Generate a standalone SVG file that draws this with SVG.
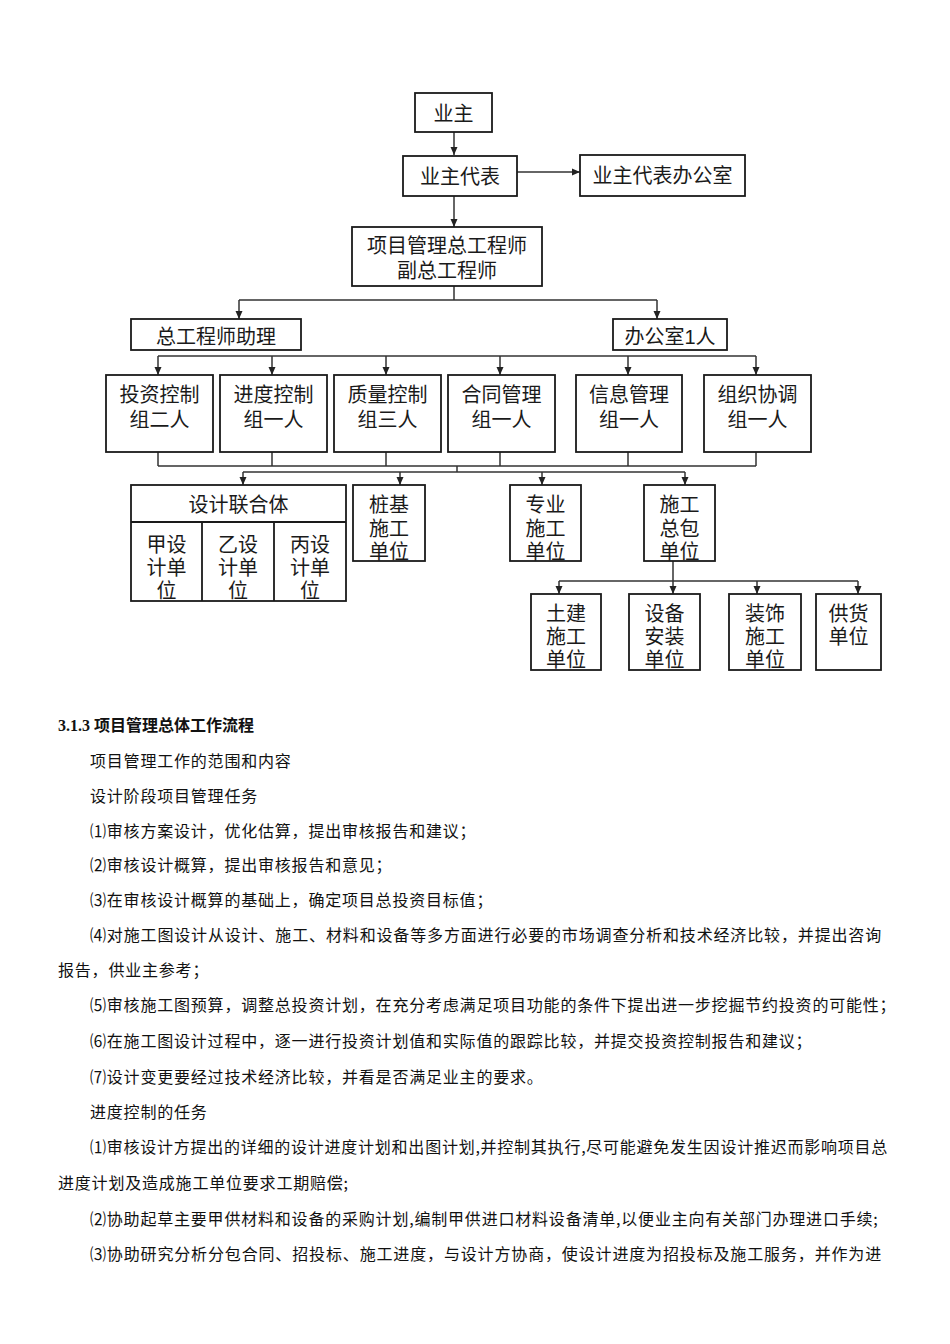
<svg xmlns="http://www.w3.org/2000/svg" width="950" height="1344" viewBox="0 0 950 1344">
<style>
.bx{fill:#fff;stroke:#1a1a1a;stroke-width:1.8}
.t{font-family:"Liberation Sans","Noto Sans CJK SC",sans-serif;font-size:20px;fill:#1a1a1a;text-anchor:middle;dominant-baseline:central;transform:translateY(2px)}
.c{fill:none;stroke:#333;stroke-width:1.5}
.a{marker-end:url(#ah)}
.b{font-family:"Noto Sans CJK SC","Noto Sans",sans-serif;font-size:16px;letter-spacing:0.8px;fill:#111;dominant-baseline:central}
.h{font-family:"Liberation Serif","Noto Sans CJK SC",serif;font-size:16px;font-weight:bold;fill:#111;dominant-baseline:central}
</style>
<defs>
<marker id="ah" markerUnits="userSpaceOnUse" markerWidth="8" markerHeight="8" refX="8" refY="4" orient="auto">
<path d="M0,0.5 L8,4 L0,7.5 z" fill="#222"/>
</marker>
</defs>
<rect width="950" height="1344" fill="#fff"/>

<g id="connectors">
<path class="c a" d="M454,132 V155"/>
<path class="c a" d="M517,172 H580"/>
<path class="c a" d="M454,196 V227"/>
<path class="c" d="M454,286 V300 M239,300 H657"/>
<path class="c a" d="M239,300 V319"/>
<path class="c a" d="M657,300 V319"/>
<path class="c" d="M158,356 H756"/>
<path class="c a" d="M158,356 V375"/>
<path class="c a" d="M272,356 V375"/>
<path class="c a" d="M386,356 V375"/>
<path class="c a" d="M500,356 V375"/>
<path class="c a" d="M628,356 V375"/>
<path class="c a" d="M756,356 V375"/>
<path class="c" d="M158,452 V466 M272,452 V466 M386,452 V466 M500,452 V466 M628,452 V466 M756,452 V466 M158,466 H756 M457,466 V472 M243,472 H685"/>
<path class="c a" d="M243,472 V485"/>
<path class="c a" d="M400,472 V485"/>
<path class="c a" d="M542,472 V485"/>
<path class="c a" d="M685,472 V485"/>
<path class="c a" d="M673,561 V594"/>
<path class="c" d="M559,581 H858"/>
<path class="c a" d="M559,581 V594"/>
<path class="c a" d="M757,581 V594"/>
<path class="c a" d="M858,581 V594"/>
</g>

<g id="yezhu"><rect class="bx" x="415" y="93" width="77" height="39"/><text class="t" x="453.5" y="112">业主</text></g>
<g id="yezhudaibiao"><rect class="bx" x="403" y="156" width="114" height="40"/><text class="t" x="460" y="175">业主代表</text></g>
<g id="bangongshi0"><rect class="bx" x="580" y="155" width="165" height="41"/><text class="t" x="662.5" y="174">业主代表办公室</text></g>
<g id="zonggong"><rect class="bx" x="352" y="227" width="190" height="59"/><text class="t"><tspan x="447" y="244">项目管理总工程师</tspan><tspan x="447" y="269">副总工程师</tspan></text></g>
<g id="zhuli"><rect class="bx" x="131" y="319" width="170" height="31"/><text class="t" x="216" y="335">总工程师助理</text></g>
<g id="bangongshi1"><rect class="bx" x="613" y="319" width="114" height="31"/><text class="t" x="670" y="335">办公室1人</text></g>

<g id="touzi"><rect class="bx" x="106" y="375" width="107" height="77"/><text class="t"><tspan x="159.5" y="393">投资控制</tspan><tspan x="159.5" y="418">组二人</tspan></text></g>
<g id="jindu"><rect class="bx" x="220" y="375" width="107" height="77"/><text class="t"><tspan x="273.5" y="393">进度控制</tspan><tspan x="273.5" y="418">组一人</tspan></text></g>
<g id="zhiliang"><rect class="bx" x="334" y="375" width="107" height="77"/><text class="t"><tspan x="387.5" y="393">质量控制</tspan><tspan x="387.5" y="418">组三人</tspan></text></g>
<g id="hetong"><rect class="bx" x="448" y="375" width="107" height="77"/><text class="t"><tspan x="501.5" y="393">合同管理</tspan><tspan x="501.5" y="418">组一人</tspan></text></g>
<g id="xinxi"><rect class="bx" x="576" y="375" width="106" height="77"/><text class="t"><tspan x="629" y="393">信息管理</tspan><tspan x="629" y="418">组一人</tspan></text></g>
<g id="zuzhi"><rect class="bx" x="704" y="375" width="107" height="77"/><text class="t"><tspan x="757.5" y="393">组织协调</tspan><tspan x="757.5" y="418">组一人</tspan></text></g>

<g id="sheji">
<rect class="bx" x="131" y="485" width="215" height="116"/>
<path class="c" style="stroke:#1a1a1a;stroke-width:1.8" d="M131,522 H346 M202,522 V601 M274,522 V601"/>
<text class="t" x="238.5" y="503">设计联合体</text>
<text class="t"><tspan x="166.5" y="543">甲设</tspan><tspan x="166.5" y="566">计单</tspan><tspan x="166.5" y="589">位</tspan></text>
<text class="t"><tspan x="238" y="543">乙设</tspan><tspan x="238" y="566">计单</tspan><tspan x="238" y="589">位</tspan></text>
<text class="t"><tspan x="310" y="543">丙设</tspan><tspan x="310" y="566">计单</tspan><tspan x="310" y="589">位</tspan></text>
</g>
<g id="zhuangji"><rect class="bx" x="353" y="485" width="72" height="76"/><text class="t"><tspan x="389" y="503">桩基</tspan><tspan x="389" y="527">施工</tspan><tspan x="389" y="550">单位</tspan></text></g>
<g id="zhuanye"><rect class="bx" x="510" y="485" width="71" height="76"/><text class="t"><tspan x="545.5" y="503">专业</tspan><tspan x="545.5" y="527">施工</tspan><tspan x="545.5" y="550">单位</tspan></text></g>
<g id="zongbao"><rect class="bx" x="644" y="485" width="71" height="76"/><text class="t"><tspan x="679.5" y="503">施工</tspan><tspan x="679.5" y="527">总包</tspan><tspan x="679.5" y="550">单位</tspan></text></g>

<g id="tujian"><rect class="bx" x="531" y="594" width="70" height="76"/><text class="t"><tspan x="566" y="612">土建</tspan><tspan x="566" y="635">施工</tspan><tspan x="566" y="658">单位</tspan></text></g>
<g id="shebei"><rect class="bx" x="629" y="594" width="71" height="76"/><text class="t"><tspan x="664.5" y="612">设备</tspan><tspan x="664.5" y="635">安装</tspan><tspan x="664.5" y="658">单位</tspan></text></g>
<g id="zhuangshi"><rect class="bx" x="729" y="594" width="72" height="76"/><text class="t"><tspan x="765" y="612">装饰</tspan><tspan x="765" y="635">施工</tspan><tspan x="765" y="658">单位</tspan></text></g>
<g id="gonghuo"><rect class="bx" x="816" y="594" width="65" height="76"/><text class="t"><tspan x="848.5" y="612">供货</tspan><tspan x="848.5" y="635">单位</tspan></text></g>

<g id="body">
<text class="h" x="58" y="725">3.1.3 项目管理总体工作流程</text>
<text class="b" x="90" y="760">项目管理工作的范围和内容</text>
<text class="b" x="90" y="795">设计阶段项目管理任务</text>
<text class="b" x="90" y="830">⑴审核方案设计，优化估算，提出审核报告和建议；</text>
<text class="b" x="90" y="864">⑵审核设计概算，提出审核报告和意见；</text>
<text class="b" x="90" y="899">⑶在审核设计概算的基础上，确定项目总投资目标值；</text>
<text class="b" x="90" y="934" textLength="792" lengthAdjust="spacing">⑷对施工图设计从设计、施工、材料和设备等多方面进行必要的市场调查分析和技术经济比较，并提出咨询</text>
<text class="b" x="58" y="969">报告，供业主参考；</text>
<text class="b" x="90" y="1004">⑸审核施工图预算，调整总投资计划，在充分考虑满足项目功能的条件下提出进一步挖掘节约投资的可能性；</text>
<text class="b" x="90" y="1040">⑹在施工图设计过程中，逐一进行投资计划值和实际值的跟踪比较，并提交投资控制报告和建议；</text>
<text class="b" x="90" y="1076">⑺设计变更要经过技术经济比较，并看是否满足业主的要求。</text>
<text class="b" x="90" y="1111">进度控制的任务</text>
<text class="b" x="90" y="1146" textLength="798" lengthAdjust="spacing">⑴审核设计方提出的详细的设计进度计划和出图计划,并控制其执行,尽可能避免发生因设计推迟而影响项目总</text>
<text class="b" x="58" y="1182">进度计划及造成施工单位要求工期赔偿;</text>
<text class="b" x="90" y="1218">⑵协助起草主要甲供材料和设备的采购计划,编制甲供进口材料设备清单,以便业主向有关部门办理进口手续;</text>
<text class="b" x="90" y="1253" textLength="792" lengthAdjust="spacing">⑶协助研究分析分包合同、招投标、施工进度，与设计方协商，使设计进度为招投标及施工服务，并作为进</text>
</g>
</svg>
